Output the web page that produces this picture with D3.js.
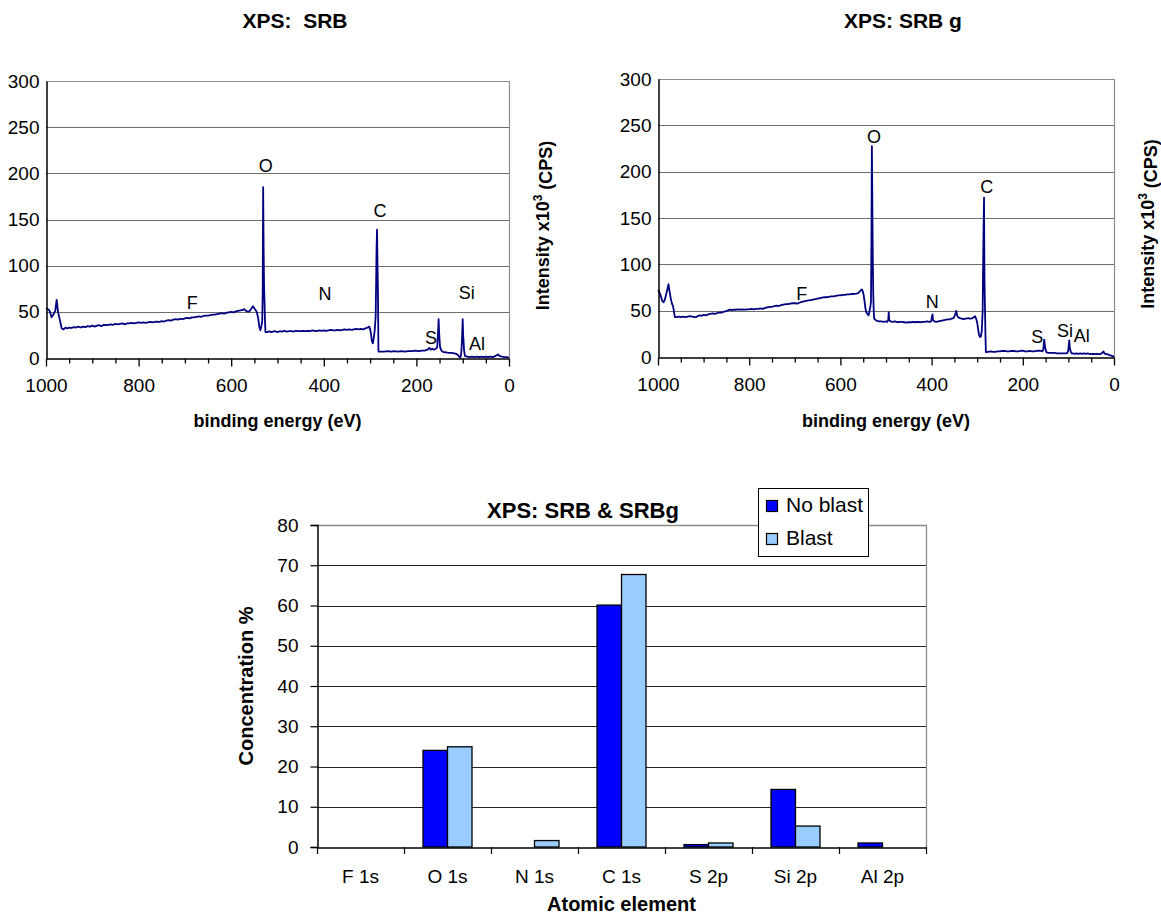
<!DOCTYPE html>
<html>
<head>
<meta charset="utf-8">
<script src="https://cdn.jsdelivr.net/npm/d3@7"></script>
<style>
  body { margin: 0; background: #fff; }
  svg { display: block; }
  text { font-family: "Liberation Sans", Arial, sans-serif; fill: #000; white-space: pre; }
</style>
</head>
<body>
<svg id="chart" width="1161" height="915"></svg>
<script>
// ---------- XPS survey spectra: [binding energy (eV), intensity (x10^3 CPS)] ----------
const energyTicks = [1000, 800, 600, 400, 200, 0];
const energyMinorTicks = d3.range(0, 1001, 50);
const intensityTicks = [0, 50, 100, 150, 200, 250, 300];

const srbSpectrum = [
  [1000,54],[996,53],[992,51],[988,44],[984,47],[980,51],[977,63],[974,50],[970,41],[966,32],
  [962,31],[958,33],[954,32],[950,33],[945,32.5],[940,33.5],[935,33],[930,34],[925,33],[920,34],
  [915,33.5],[910,34.5],[905,34],[900,35],[895,34],[890,35],[885,35.5],[880,34.5],[875,36],[870,35.5],
  [865,36],[860,36.5],[855,36],[850,37],[845,36.5],[840,37],[835,37.5],[830,36.5],[825,37.5],[820,37.5],
  [815,38],[810,37.5],[805,38],[800,38.5],[795,38],[790,38.5],[785,38],[780,38.5],[775,39],[770,38.5],
  [765,39],[760,39.5],[755,39],[750,40],[745,39.5],[740,40.5],[735,41],[730,40.5],[725,41.5],[720,42],
  [715,41.5],[710,42.5],[705,42],[700,43],[695,43.5],[690,43],[685,44],[680,44],[675,44.5],[670,45],
  [665,44.5],[660,45.5],[655,46],[650,46],[645,46.5],[640,47],[635,47],[630,47.5],[625,48],[620,48.5],
  [615,48],[610,49],[605,49.5],[600,50],[595,49.5],[590,50.5],[585,51],[580,51.5],[575,52],[572,53],
  [568,51],[563,50],[560,51],[557,53],[553,56],[549,53],[545,50],[542,44],[539,33],[537,30],
  [535,34],[533,40],[532,70],[531,185],[530,120],[529,77],[528,60],[527,40],[526,28],[522,28],
  [518,29],[514,28],[510,28.5],[505,29],[500,28],[495,29],[490,28.5],[485,29.5],[480,28.5],[475,29],
  [470,29],[465,28.5],[460,29.5],[455,29],[450,29],[445,29.5],[440,29],[435,29.5],[430,29],[425,30],
  [420,29.5],[415,29],[410,30],[405,29.5],[400,30],[395,29.5],[390,30],[385,30.5],[380,30],[375,30],
  [370,30.5],[365,30],[360,30.5],[355,31],[350,30.5],[345,31],[340,30.5],[335,31],[330,31.5],[325,31],
  [320,31.5],[315,31],[310,32],[305,33],[302,34],[300,31],[298,26],[296,18],[294,16],[292,22],
  [290,30],[288,45],[287,80],[286,120],[285,139],[284,100],[283,70],[282.5,40],[282,7],[278,7],
  [270,7],[262,7.5],[255,7],[248,7.5],[240,7],[232,7.5],[225,7],[218,7.5],[210,7.5],[202,8],
  [195,7.5],[188,8],[182,8],[176,9],[172,11],[169,9],[166,10],[162,9],[158,10],[155,12],
  [153,30],[152,42],[151,28],[149,12],[146,8],[142,6.5],[136,6],[130,5.5],[124,5.5],[118,5],
  [114,4.5],[110,3],[107,1],[105,0.5],[103,6],[101.5,20],[100,42],[99,25],[97,8],[95,2],
  [90,1.5],[85,1],[80,1.5],[75,1],[70,1.5],[65,1],[60,1.5],[55,1],[50,1.5],[45,1],
  [40,1.5],[35,1],[30,2],[26,3],[24,4],[22,3],[19,2],[15,1.5],[10,1],[5,1],[0,0.5]
];

const srbgSpectrum = [
  [1000,72],[997,70],[994,66],[991,61],[988,59],[985,62],[982,68],[979,74],[977,78.5],[975,72],
  [972,63],[969,57],[967,55],[965,49],[963,43],[959,43],[955,43.5],[950,43],[945,43.5],[940,43],
  [935,43.5],[930,44],[925,43.5],[920,43],[916,43],[912,44.5],[908,45],[904,44.5],[900,45.5],[895,45],
  [890,46],[885,46.5],[880,47],[875,46.5],[870,47.5],[865,48],[860,48],[855,49],[850,49.5],[846,50.5],
  [842,51],[838,50.5],[834,51],[830,51],[825,51.5],[820,51],[815,51.5],[810,51],[805,51.5],[800,51.5],
  [795,52],[790,51.5],[785,52],[780,52],[775,52.5],[770,52],[765,53],[760,53.5],[755,54],[750,54],
  [745,55],[740,55.5],[735,55],[730,56],[725,56.5],[720,57],[715,57],[710,57.5],[705,58],[700,58],
  [695,57.5],[690,58.5],[685,59.5],[680,60],[675,60.5],[670,61],[665,61.5],[660,62],[655,62.5],[650,63],
  [645,63.5],[640,64],[635,64.5],[630,64.5],[625,65],[620,65.5],[615,65.5],[610,66],[605,66.5],[600,66.5],
  [595,67],[590,67],[585,67.5],[580,67.5],[575,68],[570,68],[565,68.5],[561,69],[558,70.5],[555,72],
  [553,73],[551,71],[549,67],[547,60],[545,52],[543,48],[540,46],[538,45],[536,50],[534,55],
  [533,60],[532,120],[531,227.6],[530,170],[529,108],[528,70],[527,50],[526,41.5],[523,40],[520,39],
  [515,38.5],[510,38.5],[505,38],[500,38.5],[497,38],[495,40],[494,48.5],[493,40],[490,38.5],[485,38],
  [480,38.5],[475,37.5],[470,38],[465,38],[460,37.5],[455,37],[450,37.5],[445,37.5],[440,38],[435,37.5],
  [430,38],[425,37.5],[420,38],[415,38],[410,38.5],[405,38],[401,38.5],[399,44],[398,46],[397,40],
  [394,38.5],[390,38],[385,38.5],[380,39],[375,39.5],[370,40],[365,40.5],[360,40.5],[356,41.5],[352,42],
  [349,45],[347,48],[346,49.7],[344,45],[342,43],[338,42],[334,41.5],[330,41],[325,41.5],[320,42],
  [316,41.5],[312,41.5],[309,42.5],[307,43],[305,44],[302,41],[300,37],[298,30],[296,24],[294,21.6],
  [292,22],[290,28],[288,50],[287,100],[286,140],[285,172],[284.5,120],[284,83],[283,55],[282,25],
  [281,5.4],[276,5.5],[270,6],[265,5.5],[260,5.5],[255,6],[250,6],[245,6.5],[240,6.5],[235,6],
  [230,6],[225,6.5],[220,6.5],[215,6],[210,6],[205,6.5],[200,7],[196,6],[190,6],[185,6.5],
  [180,6],[175,6],[170,6.5],[165,7],[160,6.5],[157,6],[155,8],[154,14],[153,18.8],[152,14],
  [150,8],[148,5],[144,4.5],[140,4.5],[135,4.5],[130,4.5],[125,4],[120,4],[115,4],[110,4],
  [105,4],[102,4.5],[100,8],[99,14],[98,18],[97,10],[95,6],[93,4],[90,4],[86,3.5],
  [82,4],[78,3.5],[74,4],[70,3.5],[66,4],[62,3.5],[58,4],[54,3.5],[50,3],[46,3.5],
  [42,3],[38,3.5],[34,3],[30,3],[27,4],[25,5],[23,6],[21,4],[18,3],[14,3],
  [10,2],[6,1.5],[3,1],[0,0]
];

// Element annotations above the spectra: [label, energy, intensity]
const srbLabels = [
  ["O", 525.5, 208], ["C", 278.6, 159.5], ["F", 684, 60.6], ["N", 397.4, 70],
  ["S", 168.5, 21.7], ["Si", 91.4, 70.4], ["Al", 69.1, 16.2]
];
const srbgLabels = [
  ["O", 526.3, 237.7], ["C", 279.2, 183.7], ["F", 684.9, 68.5], ["N", 398.5, 59.4],
  ["S", 168.2, 21.6], ["Si", 107.5, 28.8], ["Al", 70.8, 23.4]
];

// ---------- Atomic concentration bar chart ----------
const elements = ["F 1s", "O 1s", "N 1s", "C 1s", "S 2p", "Si 2p", "Al 2p"];
const seriesNames = ["No blast", "Blast"];
const noBlastValues = [0, 24.0, 0, 60.1, 0.6, 14.3, 1.0];
const blastValues = [0, 24.9, 1.6, 67.7, 1.0, 5.2, 0];
const concentrationTicks = [0, 10, 20, 30, 40, 50, 60, 70, 80];
const seriesColors = ["#0000FF", "#99CCFF"];

const svg = d3.select("#chart");
const FONT = '"Liberation Sans", Arial, sans-serif';

function spectrumPanel(opt) {
  const g = svg.append("g");
  const x = d3.scaleLinear().domain([1000, 0]).range([opt.left, opt.right]);
  const y = d3.scaleLinear().domain([0, 300]).range([opt.bottom, opt.top]);

  // gridlines
  g.selectAll("line.grid").data(intensityTicks.filter(d => d > 0 && d < 300)).join("line")
    .attr("x1", opt.left).attr("x2", opt.right)
    .attr("y1", d => Math.round(y(d)) + 0.5).attr("y2", d => Math.round(y(d)) + 0.5)
    .attr("stroke", "#6e6e6e").attr("stroke-width", 1.2);

  // plot frame (top / right in grey)
  g.append("path")
    .attr("d", `M${opt.left},${Math.round(y(300)) + 0.5}H${opt.right + 0.5}V${opt.bottom}`)
    .attr("fill", "none").attr("stroke", "#8c8c8c").attr("stroke-width", 1.2);

  // spectrum trace
  g.append("path").datum(opt.data)
    .attr("d", d3.line().x(d => x(d[0])).y(d => y(d[1])))
    .attr("fill", "none").attr("stroke", "#000080").attr("stroke-width", 1.8)
    .attr("stroke-linejoin", "round");

  // y axis
  const ya = g.append("g").attr("transform", `translate(${opt.left + 0.5},0)`)
    .call(d3.axisLeft(y).tickValues(intensityTicks).tickSize(0).tickPadding(7));
  ya.select(".domain").attr("stroke", "#000").attr("stroke-width", 1.5);
  ya.selectAll("text").style("font-family", FONT).style("font-size", "19px").attr("fill", "#000");

  // x axis with minor ticks every 50 eV
  const xa = g.append("g").attr("transform", `translate(0,${Math.round(opt.bottom) + 0.5})`)
    .call(d3.axisBottom(x).tickValues(energyMinorTicks).tickSize(5).tickSizeOuter(0)
      .tickFormat(d => energyTicks.includes(d) ? d : ""));
  xa.select(".domain").attr("stroke", "#000").attr("stroke-width", 1.5);
  xa.selectAll(".tick line").attr("stroke", "#000").attr("stroke-width", 1.3)
    .attr("y2", d => energyTicks.includes(d) ? 8 : 5);
  xa.selectAll("text").style("font-family", FONT).style("font-size", "19px")
    .attr("y", 20).attr("fill", "#000");

  // element labels
  g.selectAll("text.peak").data(opt.labels).join("text")
    .attr("class", "peak")
    .attr("x", d => x(d[1])).attr("y", d => y(d[2]))
    .attr("dy", "0.36em").attr("text-anchor", "middle")
    .style("font-size", "18px").text(d => d[0]);

  // titles
  g.append("text").attr("x", opt.titleX).attr("y", 28).attr("text-anchor", "middle")
    .style("font-size", "21px").style("font-weight", "bold").text(opt.title);
  g.append("text").attr("x", (opt.left + opt.right) / 2).attr("y", 427).attr("text-anchor", "middle")
    .style("font-size", "18px").style("font-weight", "bold").text("binding energy (eV)");

  const yt = g.append("text")
    .attr("transform", `translate(${opt.yTitleX},${(opt.top + opt.bottom) / 2 + 6}) rotate(-90)`)
    .attr("text-anchor", "middle").style("font-size", "18px").style("font-weight", "bold");
  yt.append("tspan").text("Intensity x10");
  yt.append("tspan").attr("dy", "-0.55em").style("font-size", "12px").text("3");
  yt.append("tspan").attr("dy", "0.55em").text(" (CPS)");
}

spectrumPanel({ left: 46, right: 509, top: 81, bottom: 358, data: srbSpectrum, labels: srbLabels,
  title: "XPS:  SRB", titleX: 295, yTitleX: 549 });
spectrumPanel({ left: 658, right: 1114, top: 79, bottom: 357, data: srbgSpectrum, labels: srbgLabels,
  title: "XPS: SRB g", titleX: 903, yTitleX: 1154 });

// ---------- bar chart ----------
(function barChart() {
  const L = 317, R = 926, T = 525, B = 847;
  const g = svg.append("g");
  const x = d3.scaleBand().domain(elements).range([L, R]);
  const inner = d3.scaleBand().domain(seriesNames)
    .range([x.bandwidth() * 0.2184, x.bandwidth() * 0.7816]);
  const y = d3.scaleLinear().domain([0, 80]).range([B, T]);

  g.selectAll("line.grid").data(concentrationTicks.filter(d => d > 0 && d < 80)).join("line")
    .attr("x1", L).attr("x2", R)
    .attr("y1", d => Math.round(y(d)) + 0.5).attr("y2", d => Math.round(y(d)) + 0.5)
    .attr("stroke", "#222").attr("stroke-width", 1.1);
  g.append("path").attr("d", `M${L},${T + 0.5}H${R + 0.5}V${B}`)
    .attr("fill", "none").attr("stroke", "#8c8c8c").attr("stroke-width", 1.3);

  const rows = elements.map((e, i) => ({ e, vals: [noBlastValues[i], blastValues[i]] }));
  g.selectAll("g.grp").data(rows).join("g").attr("class", "grp")
    .attr("transform", d => `translate(${x(d.e)},0)`)
    .selectAll("rect").data(d => d.vals.map((v, k) => ({ v, k })).filter(o => o.v > 0)).join("rect")
    .attr("x", o => inner(seriesNames[o.k]))
    .attr("width", inner.bandwidth())
    .attr("y", o => y(o.v)).attr("height", o => B - y(o.v))
    .attr("fill", o => seriesColors[o.k]).attr("stroke", "#000").attr("stroke-width", 1.3);

  const ya = g.append("g").attr("transform", `translate(${L + 0.5},0)`)
    .call(d3.axisLeft(y).tickValues(concentrationTicks).tickSize(7).tickPadding(12));
  ya.select(".domain").attr("stroke", "#000").attr("stroke-width", 1.5);
  ya.selectAll(".tick line").attr("stroke", "#000").attr("stroke-width", 1.2);
  ya.selectAll("text").style("font-family", FONT).style("font-size", "19px").attr("fill", "#000");

  const xa = g.append("g").attr("transform", `translate(0,${B + 0.5})`)
    .call(d3.axisBottom(x).tickSize(0).tickPadding(22));
  xa.select(".domain").attr("stroke", "#000").attr("stroke-width", 1.5);
  xa.selectAll("text").style("font-family", FONT).style("font-size", "19px").attr("fill", "#000");
  // category separators
  g.selectAll("line.sep").data(elements.concat(["end"])).join("line")
    .attr("x1", (d, i) => Math.round(L + i * x.bandwidth()) + 0.5)
    .attr("x2", (d, i) => Math.round(L + i * x.bandwidth()) + 0.5)
    .attr("y1", B).attr("y2", B + 7).attr("stroke", "#000").attr("stroke-width", 1.2);

  g.append("text").attr("x", 583).attr("y", 518).attr("text-anchor", "middle")
    .style("font-size", "22px").style("font-weight", "bold").text("XPS: SRB & SRBg");
  g.append("text").attr("x", (L + R) / 2).attr("y", 911).attr("text-anchor", "middle")
    .style("font-size", "20px").style("font-weight", "bold").text("Atomic element");
  g.append("text").attr("transform", `translate(253,${(T + B) / 2}) rotate(-90)`)
    .attr("text-anchor", "middle").style("font-size", "20px").style("font-weight", "bold")
    .text("Concentration %");

  // legend
  const lg = g.append("g");
  lg.append("rect").attr("x", 758.5).attr("y", 488.5).attr("width", 110).attr("height", 68)
    .attr("fill", "#fff").attr("stroke", "#000").attr("stroke-width", 1);
  seriesNames.forEach((s, k) => {
    lg.append("rect").attr("x", 766.5).attr("y", 500.5 + k * 33).attr("width", 11).attr("height", 11)
      .attr("fill", seriesColors[k]).attr("stroke", "#000").attr("stroke-width", 1.2);
    lg.append("text").attr("x", 786).attr("y", 512 + k * 33).style("font-size", "21px").text(s);
  });
})();
</script>
</body>
</html>
